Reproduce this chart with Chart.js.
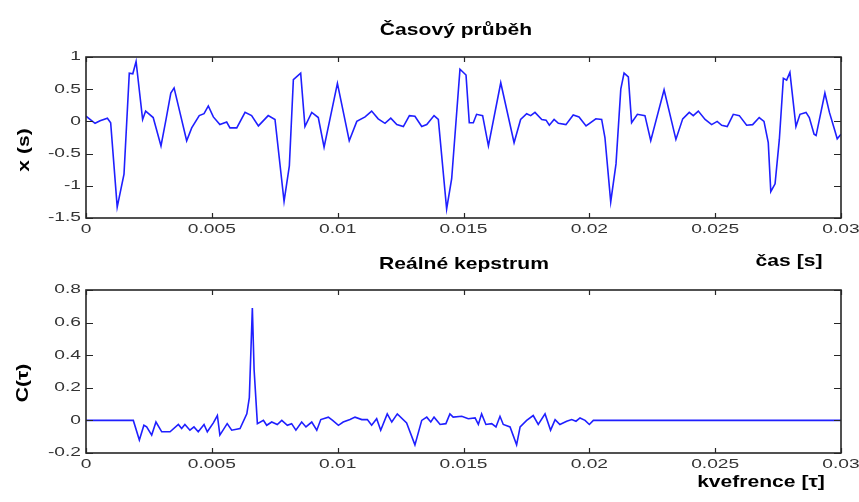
<!DOCTYPE html>
<html>
<head>
<meta charset="utf-8">
<title>Časový průběh a reálné kepstrum</title>
<script src="https://cdn.jsdelivr.net/npm/chart.js@4.4.1/dist/chart.umd.min.js"></script>
<style>
    html, body { margin: 0; padding: 0; background: #fff; }
    #wrap { position: relative; width: 859px; height: 502px; }
    #wrap canvas { position: absolute; left: 0; top: 0; }
</style>
</head>
<body>
<div id="wrap">
    <canvas id="cas-chart" width="859" height="502"></canvas>
    <canvas id="kep-chart" width="859" height="502"></canvas>
</div>
<script>
// Časový průběh: čas [s] a hodnota signálu
const casT = [
    0, 0.00036, 0.00056, 0.00085, 0.00098, 0.00124, 0.00151, 0.00172, 0.00186, 0.00199,
    0.00225, 0.00237, 0.00267, 0.00298, 0.00318, 0.00337, 0.00350, 0.00400, 0.00420, 0.00450,
    0.00469, 0.00486, 0.00506, 0.00532, 0.00559, 0.00572, 0.00599, 0.00632, 0.00658, 0.00685,
    0.00724, 0.00751, 0.00787, 0.00808, 0.00824, 0.00853, 0.00870, 0.00897, 0.00923, 0.00946,
    0.00999, 0.01046, 0.01076, 0.01109, 0.01135, 0.01161, 0.01188, 0.01211, 0.01235, 0.01261,
    0.01285, 0.01307, 0.01334, 0.01354, 0.01383, 0.01400, 0.01433, 0.01453, 0.01486, 0.01510,
    0.01523, 0.01539, 0.01552, 0.01576, 0.01599, 0.01648, 0.01701, 0.01727, 0.01751, 0.01767,
    0.01784, 0.01811, 0.01828, 0.01841, 0.01860, 0.01877, 0.01907, 0.01936, 0.01959, 0.01987,
    0.02026, 0.02049, 0.02062, 0.02085, 0.02106, 0.02125, 0.02138, 0.02155, 0.02168, 0.02191,
    0.02221, 0.02244, 0.02297, 0.02344, 0.02371, 0.02397, 0.02413, 0.02433, 0.02460, 0.02486,
    0.02508, 0.02526, 0.02548, 0.02572, 0.02596, 0.02625, 0.02649, 0.02675, 0.02694, 0.02711,
    0.02721, 0.02738, 0.02755, 0.02771, 0.02784, 0.02797, 0.02821, 0.02837, 0.02861, 0.02874,
    0.02893, 0.02901, 0.02936, 0.02954, 0.02976, 0.02985, 0.03000
];
const casX = [
    0.08, -0.03, 0.01, 0.05, -0.02, -1.33, -0.82, 0.75, 0.74, 0.93,
    0.03, 0.16, 0.06, -0.38, 0.03, 0.44, 0.52, -0.30, -0.10, 0.09,
    0.12, 0.24, 0.07, -0.05, -0.01, -0.10, -0.10, 0.14, 0.09, -0.07,
    0.09, 0.03, -1.24, -0.69, 0.65, 0.75, -0.08, 0.14, 0.06, -0.40,
    0.59, -0.30, 0.00, 0.07, 0.16, 0.04, -0.03, 0.05, -0.05, -0.08,
    0.09, 0.08, -0.08, -0.05, 0.09, 0.03, -1.36, -0.89, 0.81, 0.72,
    -0.02, -0.02, 0.11, 0.09, -0.38, 0.60, -0.33, 0.03, 0.12, 0.09,
    0.14, 0.03, 0.02, -0.06, 0.03, -0.03, -0.05, 0.10, 0.07, -0.07,
    0.04, 0.03, -0.25, -1.25, -0.66, 0.50, 0.75, 0.69, -0.02, 0.11,
    0.09, -0.30, 0.49, -0.28, 0.04, 0.14, 0.09, 0.16, 0.03, -0.05,
    0.00, -0.06, -0.08, 0.11, 0.09, -0.06, -0.05, 0.06, 0.00, -0.33,
    -1.09, -0.97, -0.28, 0.67, 0.64, 0.76, -0.08, 0.11, 0.14, 0.06,
    -0.20, -0.22, 0.44, 0.14, -0.15, -0.27, -0.20
];

// Reálné kepstrum: kvefrence a C(τ)
const kepT = [
    0, 0.00188, 0.00212, 0.00230, 0.00241, 0.00261, 0.00278, 0.00301, 0.00334, 0.00367,
    0.00380, 0.00393, 0.00413, 0.00429, 0.00446, 0.00469, 0.00482, 0.00506, 0.00522, 0.00532,
    0.00561, 0.00579, 0.00612, 0.00639, 0.00649, 0.00661, 0.00668, 0.00681, 0.00705, 0.00718,
    0.00738, 0.00760, 0.00778, 0.00800, 0.00817, 0.00834, 0.00857, 0.00874, 0.00897, 0.00917,
    0.00933, 0.00963, 0.00980, 0.01003, 0.01022, 0.01049, 0.01069, 0.01096, 0.01118, 0.01135,
    0.01155, 0.01171, 0.01197, 0.01215, 0.01237, 0.01274, 0.01307, 0.01334, 0.01354, 0.01370,
    0.01383, 0.01407, 0.01430, 0.01446, 0.01459, 0.01493, 0.01519, 0.01546, 0.01559, 0.01572,
    0.01589, 0.01612, 0.01629, 0.01645, 0.01658, 0.01685, 0.01711, 0.01725, 0.01751, 0.01777,
    0.01797, 0.01824, 0.01846, 0.01864, 0.01883, 0.01910, 0.01930, 0.01947, 0.01963, 0.01983,
    0.02000, 0.02016, 0.03000
];
const kepC = [
    0, 0, -0.12, -0.03, -0.04, -0.09, -0.01, -0.07, -0.07, -0.025,
    -0.05, -0.025, -0.06, -0.04, -0.07, -0.025, -0.07, -0.015, 0.03, -0.09,
    -0.02, -0.06, -0.05, 0.04, 0.14, 0.69, 0.31, -0.02, 0.00, -0.03,
    -0.01, -0.025, 0.00, -0.03, -0.02, -0.06, -0.01, -0.04, -0.01, -0.06,
    0.005, 0.02, 0.00, -0.03, -0.01, 0.005, 0.02, 0.005, 0.005, -0.03,
    0.01, -0.06, 0.04, -0.01, 0.04, -0.015, -0.15, 0.00, 0.02, -0.01,
    0.02, -0.025, -0.02, 0.04, 0.02, 0.025, 0.01, 0.015, -0.025, 0.04,
    -0.025, -0.02, -0.04, 0.025, -0.025, -0.04, -0.15, -0.04, 0.00, 0.03,
    -0.025, 0.04, -0.06, 0.005, -0.025, -0.005, 0.005, -0.005, 0.015, 0.00,
    -0.025, 0, 0
];

// Osy
const timeTicks = [0, 0.005, 0.01, 0.015, 0.02, 0.025, 0.03];
const timeTickLabels = ['0', '0.005', '0.01', '0.015', '0.02', '0.025', '0.03'];
const casYTicks = [-1.5, -1, -0.5, 0, 0.5, 1];
const casYTickLabels = ['-1.5', '-1', '-0.5', '0', '0.5', '1'];
const kepYTicks = [-0.2, 0, 0.2, 0.4, 0.6, 0.8];
const kepYTickLabels = ['-0.2', '0', '0.2', '0.4', '0.6', '0.8'];

// Text roztažený vodorovně (popisky vypadají širší než běžné písmo)
function wideText(ctx, text, x, y, opts) {
    ctx.save();
    ctx.translate(x, y);
    if (opts.rotate) ctx.rotate(opts.rotate);
    ctx.scale(opts.stretch || 1, 1);
    ctx.font = opts.font;
    ctx.fillStyle = opts.color || '#000';
    ctx.textAlign = opts.align || 'center';
    ctx.textBaseline = opts.baseline || 'alphabetic';
    ctx.fillText(text, 0, 0);
    ctx.restore();
}

// Rámeček s vnitřními značkami, popisky os a titulky
const boxAxes = {
    id: 'boxAxes',
    afterDraw(chart, args, o) {
        const { ctx, chartArea: a } = chart;
        const sx = chart.scales.x, sy = chart.scales.y;
        ctx.save();
        ctx.strokeStyle = '#262626';
        ctx.lineWidth = 1.6;
        ctx.strokeRect(a.left, a.top, a.right - a.left, a.bottom - a.top);

        ctx.lineWidth = 1.2;
        ctx.beginPath();
        o.xTicks.forEach(v => {
            const px = Math.round(sx.getPixelForValue(v)) + 0.5;
            ctx.moveTo(px, a.bottom); ctx.lineTo(px, a.bottom - 5);
            ctx.moveTo(px, a.top); ctx.lineTo(px, a.top + 5);
        });
        o.yTicks.forEach(v => {
            const py = Math.round(sy.getPixelForValue(v)) + 0.5;
            ctx.moveTo(a.left, py); ctx.lineTo(a.left + 7, py);
            ctx.moveTo(a.right, py); ctx.lineTo(a.right - 7, py);
        });
        ctx.stroke();
        ctx.restore();

        const tickFont = '12px "Liberation Sans", Arial, sans-serif';
        o.xTicks.forEach((v, i) => {
            wideText(ctx, o.xLabels[i], sx.getPixelForValue(v), a.bottom + 12,
                { font: tickFont, stretch: 1.6, baseline: 'middle', color: '#333' });
        });
        o.yTicks.forEach((v, i) => {
            wideText(ctx, o.yLabels[i], a.left - 5, sy.getPixelForValue(v),
                { font: tickFont, stretch: 1.6, align: 'right', baseline: 'middle', color: '#333' });
        });

        o.texts.forEach(t => wideText(ctx, t.text, t.x, t.y, {
            font: 'bold 17px "Liberation Sans", Arial, sans-serif',
            stretch: 1.24,
            rotate: t.rotate,
            baseline: t.rotate ? 'middle' : 'alphabetic'
        }));
    }
};

function makeChart(canvasId, times, values, yMin, yMax, padding, axes) {
    const points = times.map((t, i) => ({ x: t, y: values[i] }));
    return new Chart(document.getElementById(canvasId), {
        type: 'line',
        data: {
            datasets: [{
                data: points,
                borderColor: '#1f1fff',
                borderWidth: 1.6,
                pointRadius: 0,
                tension: 0,
                fill: false
            }]
        },
        options: {
            responsive: false,
            animation: false,
            events: [],
            layout: { padding, autoPadding: false },
            plugins: {
                legend: { display: false },
                title: { display: false },
                tooltip: { enabled: false },
                boxAxes: axes
            },
            scales: {
                x: { type: 'linear', min: 0, max: 0.03, display: false },
                y: { type: 'linear', min: yMin, max: yMax, display: false }
            }
        },
        plugins: [boxAxes]
    });
}

makeChart('cas-chart', casT, casX, -1.5, 1,
    { left: 86, right: 18, top: 57, bottom: 284 },
    {
        xTicks: timeTicks, xLabels: timeTickLabels,
        yTicks: casYTicks, yLabels: casYTickLabels,
        texts: [
            { text: 'Časový průběh', x: 456, y: 35 },
            { text: 'čas [s]', x: 789, y: 266 },
            { text: 'x (s)', x: 24, y: 150, rotate: -Math.PI / 2 }
        ]
    });

makeChart('kep-chart', kepT, kepC, -0.2, 0.8,
    { left: 86, right: 18, top: 290, bottom: 49 },
    {
        xTicks: timeTicks, xLabels: timeTickLabels,
        yTicks: kepYTicks, yLabels: kepYTickLabels,
        texts: [
            { text: 'Reálné kepstrum', x: 464, y: 269 },
            { text: 'kvefrence [τ]', x: 761, y: 487 },
            { text: 'C(τ)', x: 23, y: 383, rotate: -Math.PI / 2 }
        ]
    });
</script>
</body>
</html>
